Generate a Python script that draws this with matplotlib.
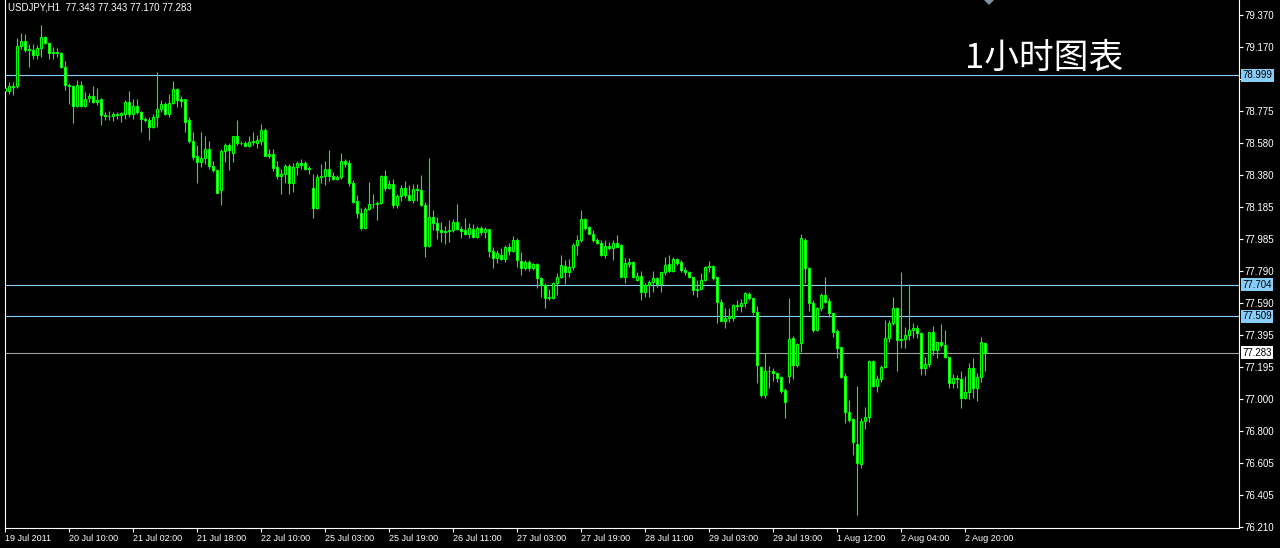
import numpy as np
import matplotlib
matplotlib.use('Agg')
import matplotlib.pyplot as plt
from matplotlib.patches import Polygon

# 1시간봉 OHLC
opens = [
    78.90, 78.90, 78.925, 78.93, 79.18, 79.21, 79.155, 79.155, 79.12, 79.165,
    79.235, 79.20, 79.133, 79.14, 79.135, 79.05, 78.94, 78.93, 78.81, 78.94,
    78.81, 78.855, 78.87, 78.83, 78.85, 78.75, 78.745, 78.745, 78.76, 78.755,
    78.76, 78.83, 78.76, 78.81, 78.77, 78.73, 78.72, 78.68, 78.74, 78.79,
    78.82, 78.76, 78.824, 78.91, 78.85, 78.85, 78.72, 78.59, 78.50, 78.46,
    78.49, 78.54, 78.44, 78.41, 78.29, 78.53, 78.57, 78.52, 78.62, 78.58,
    78.58, 78.56, 78.585, 78.58, 78.59, 78.66, 78.50, 78.51, 78.43, 78.378,
    78.39, 78.44, 78.33, 78.43, 78.454, 78.456, 78.42, 78.30, 78.18, 78.37,
    78.375, 78.418, 78.376, 78.36, 78.37, 78.468, 78.455, 78.33, 78.22, 78.15,
    78.057, 78.17, 78.20, 78.205, 78.21, 78.376, 78.30, 78.324, 78.197, 78.25,
    78.30, 78.26, 78.225, 78.293, 78.29, 78.197, 77.945, 78.125, 78.083, 78.042,
    78.03, 78.036, 78.04, 78.09, 78.05, 78.04, 78.015, 78.05, 78.00, 78.056,
    78.03, 78.05, 77.915, 77.867, 77.89, 77.865, 77.94, 77.91, 77.98, 77.85,
    77.81, 77.846, 77.81, 77.835, 77.743, 77.702, 77.62, 77.62, 77.712, 77.753,
    77.822, 77.78, 77.815, 77.95, 77.98, 78.11, 78.06, 78.02, 77.98, 77.96,
    77.887, 77.945, 77.93, 77.965, 77.949, 77.753, 77.83, 77.846, 77.733, 77.76,
    77.66, 77.70, 77.72, 77.743, 77.71, 77.78, 77.83, 77.79, 77.863, 77.846,
    77.795, 77.785, 77.753, 77.67, 77.68, 77.733, 77.815, 77.822, 77.753, 77.595,
    77.48, 77.50, 77.50, 77.578, 77.575, 77.593, 77.645, 77.62, 77.534, 77.198,
    77.023, 77.173, 77.17, 77.157, 77.136, 77.054, 77.14, 77.373, 77.208, 77.342,
    77.98, 77.805, 77.589, 77.424, 77.558, 77.64, 77.604, 77.527, 77.418, 77.317,
    77.14, 76.92, 76.875, 76.72, 76.60, 76.86, 76.889, 77.233, 77.08, 77.122,
    77.198, 77.373, 77.466, 77.558, 77.363, 77.37, 77.394, 77.424, 77.44, 77.404,
    77.192, 77.212, 77.41, 77.30, 77.348, 77.33, 77.26, 77.095, 77.126, 77.122,
    77.002, 77.04, 77.188, 77.068, 77.136, 77.343,
]
highs = [
    78.94, 78.954, 78.956, 79.226, 79.26, 79.25, 79.19, 79.19, 79.185, 79.31,
    79.24, 79.20, 79.17, 79.166, 79.139, 79.086, 78.95, 78.94, 78.97, 78.96,
    78.897, 78.89, 78.93, 78.92, 78.855, 78.77, 78.78, 78.77, 78.77, 78.77,
    78.845, 78.90, 78.85, 78.85, 78.78, 78.74, 78.74, 78.76, 79.016, 78.845,
    78.835, 78.88, 78.965, 78.92, 78.87, 78.85, 78.74, 78.65, 78.567, 78.65,
    78.62, 78.59, 78.47, 78.42, 78.54, 78.58, 78.58, 78.625, 78.72, 78.59,
    78.59, 78.62, 78.645, 78.63, 78.697, 78.67, 78.54, 78.54, 78.47, 78.42,
    78.45, 78.45, 78.454, 78.47, 78.48, 78.47, 78.44, 78.39, 78.39, 78.45,
    78.47, 78.536, 78.40, 78.38, 78.52, 78.48, 78.475, 78.35, 78.258, 78.176,
    78.186, 78.336, 78.265, 78.222, 78.382, 78.413, 78.35, 78.36, 78.263, 78.32,
    78.345, 78.32, 78.324, 78.324, 78.38, 78.213, 78.49, 78.166, 78.125, 78.09,
    78.07, 78.104, 78.11, 78.20, 78.07, 78.118, 78.083, 78.08, 78.07, 78.067,
    78.06, 78.05, 77.94, 77.918, 77.93, 77.95, 77.96, 78.007, 77.99, 77.908,
    77.856, 77.856, 77.84, 77.84, 77.753, 77.718, 77.68, 77.72, 77.774, 77.888,
    77.857, 77.862, 77.96, 78.01, 78.165, 78.114, 78.07, 78.04, 77.995, 77.98,
    77.98, 77.97, 77.98, 78.01, 77.953, 77.867, 77.87, 77.85, 77.78, 77.79,
    77.712, 77.733, 77.79, 77.753, 77.784, 77.877, 77.89, 77.877, 77.871, 77.856,
    77.815, 77.79, 77.753, 77.733, 77.774, 77.82, 77.85, 77.826, 77.753, 77.616,
    77.558, 77.56, 77.583, 77.61, 77.616, 77.66, 77.66, 77.624, 77.575, 77.204,
    77.28, 77.204, 77.188, 77.167, 77.142, 77.064, 77.624, 77.387, 77.342, 78.02,
    77.99, 77.816, 77.61, 77.568, 77.651, 77.754, 77.624, 77.53, 77.43, 77.32,
    77.157, 76.992, 76.88, 77.081, 76.883, 76.95, 77.24, 77.24, 77.146, 77.208,
    77.486, 77.486, 77.63, 77.568, 77.781, 77.445, 77.707, 77.466, 77.455, 77.414,
    77.26, 77.414, 77.451, 77.352, 77.46, 77.425, 77.26, 77.15, 77.146, 77.173,
    77.142, 77.22, 77.254, 77.157, 77.383, 77.343,
]
lows = [
    78.81, 78.882, 78.878, 78.92, 79.16, 79.14, 79.05, 79.10, 79.10, 79.11,
    79.19, 79.10, 79.10, 79.113, 79.04, 78.906, 78.82, 78.70, 78.80, 78.80,
    78.80, 78.835, 78.825, 78.815, 78.69, 78.72, 78.72, 78.715, 78.73, 78.71,
    78.73, 78.74, 78.73, 78.76, 78.65, 78.71, 78.60, 78.67, 78.676, 78.77,
    78.75, 78.74, 78.82, 78.80, 78.80, 78.65, 78.58, 78.475, 78.33, 78.43,
    78.45, 78.42, 78.40, 78.27, 78.196, 78.465, 78.41, 78.465, 78.57, 78.567,
    78.56, 78.555, 78.57, 78.55, 78.57, 78.50, 78.485, 78.405, 78.36, 78.265,
    78.33, 78.265, 78.28, 78.38, 78.42, 78.413, 78.39, 78.114, 78.17, 78.33,
    78.32, 78.345, 78.35, 78.35, 78.36, 78.43, 78.316, 78.207, 78.118, 78.042,
    78.046, 78.165, 78.176, 78.104, 78.20, 78.283, 78.296, 78.18, 78.18, 78.22,
    78.238, 78.22, 78.21, 78.22, 78.19, 77.877, 77.94, 78.042, 77.987, 77.97,
    77.956, 77.97, 78.03, 78.04, 77.99, 78.01, 77.995, 77.995, 77.99, 78.01,
    77.995, 77.877, 77.805, 77.836, 77.856, 77.846, 77.887, 77.904, 77.815, 77.764,
    77.795, 77.79, 77.795, 77.682, 77.63, 77.558, 77.61, 77.616, 77.64, 77.743,
    77.706, 77.753, 77.795, 77.887, 77.97, 78.04, 78.015, 77.97, 77.954, 77.883,
    77.867, 77.918, 77.857, 77.935, 77.75, 77.713, 77.815, 77.743, 77.727, 77.61,
    77.63, 77.63, 77.66, 77.692, 77.66, 77.764, 77.78, 77.78, 77.826, 77.784,
    77.764, 77.743, 77.64, 77.63, 77.676, 77.727, 77.784, 77.733, 77.465, 77.48,
    77.44, 77.475, 77.48, 77.548, 77.538, 77.568, 77.61, 77.517, 77.095, 77.013,
    77.002, 77.064, 77.11, 77.105, 77.033, 76.879, 77.095, 77.122, 77.194, 77.29,
    77.713, 77.542, 77.414, 77.418, 77.542, 77.589, 77.507, 77.383, 77.25, 77.13,
    76.848, 76.858, 76.652, 76.282, 76.57, 76.813, 76.858, 77.07, 77.044, 77.105,
    77.188, 77.353, 77.455, 77.171, 77.315, 77.315, 77.363, 77.373, 77.373, 77.147,
    77.147, 77.198, 77.27, 77.25, 77.32, 77.254, 77.064, 77.064, 77.064, 76.945,
    76.998, 76.998, 77.002, 76.986, 77.105, 77.17,
]
closes = [
    78.92, 78.93, 78.93, 79.18, 79.21, 79.155, 79.16, 79.12, 79.165, 79.235,
    79.20, 79.133, 79.14, 79.135, 79.05, 78.94, 78.93, 78.81, 78.94, 78.81,
    78.85, 78.87, 78.83, 78.845, 78.75, 78.745, 78.745, 78.76, 78.755, 78.765,
    78.83, 78.76, 78.81, 78.77, 78.73, 78.72, 78.68, 78.74, 78.79, 78.82,
    78.76, 78.824, 78.91, 78.845, 78.84, 78.71, 78.59, 78.495, 78.46, 78.49,
    78.54, 78.44, 78.41, 78.27, 78.53, 78.57, 78.535, 78.62, 78.58, 78.582,
    78.56, 78.585, 78.59, 78.60, 78.66, 78.50, 78.51, 78.427, 78.378, 78.39,
    78.44, 78.33, 78.43, 78.454, 78.446, 78.42, 78.425, 78.18, 78.37, 78.375,
    78.418, 78.376, 78.36, 78.37, 78.468, 78.45, 78.33, 78.217, 78.15, 78.057,
    78.17, 78.20, 78.205, 78.21, 78.376, 78.30, 78.324, 78.197, 78.25, 78.30,
    78.258, 78.225, 78.293, 78.29, 78.197, 77.945, 78.125, 78.083, 78.042, 78.03,
    78.036, 78.04, 78.09, 78.05, 78.036, 78.015, 78.052, 78.00, 78.056, 78.03,
    78.05, 77.915, 77.867, 77.898, 77.865, 77.94, 77.91, 77.98, 77.857, 77.81,
    77.846, 77.81, 77.83, 77.743, 77.702, 77.62, 77.63, 77.712, 77.753, 77.826,
    77.78, 77.815, 77.95, 77.98, 78.11, 78.056, 78.02, 77.98, 77.96, 77.887,
    77.945, 77.93, 77.965, 77.94, 77.753, 77.836, 77.846, 77.753, 77.76, 77.66,
    77.70, 77.72, 77.743, 77.71, 77.78, 77.826, 77.79, 77.863, 77.84, 77.795,
    77.785, 77.753, 77.67, 77.68, 77.733, 77.815, 77.822, 77.743, 77.595, 77.48,
    77.50, 77.51, 77.578, 77.575, 77.593, 77.651, 77.62, 77.534, 77.208, 77.023,
    77.173, 77.171, 77.16, 77.13, 77.05, 76.978, 77.37, 77.208, 77.338, 77.99,
    77.805, 77.589, 77.424, 77.558, 77.64, 77.60, 77.527, 77.414, 77.315, 77.136,
    76.92, 76.869, 76.731, 76.601, 76.862, 76.889, 77.233, 77.08, 77.122, 77.198,
    77.373, 77.466, 77.558, 77.363, 77.37, 77.394, 77.424, 77.44, 77.404, 77.192,
    77.212, 77.41, 77.30, 77.348, 77.33, 77.26, 77.095, 77.126, 77.12, 77.002,
    77.04, 77.188, 77.068, 77.136, 77.348, 77.283,
]

# x축 시간 라벨 (16봉 간격)
time_labels = ['19 Jul 2011', '20 Jul 10:00', '21 Jul 02:00', '21 Jul 18:00',
               '22 Jul 10:00', '25 Jul 03:00', '25 Jul 19:00', '26 Jul 11:00',
               '27 Jul 03:00', '27 Jul 19:00', '28 Jul 11:00', '29 Jul 03:00',
               '29 Jul 19:00', '1 Aug 12:00', '2 Aug 04:00', '2 Aug 20:00']
label_step = 16

# y축 가격 눈금 (78.975 는 78.999 박스에 가려짐)
price_ticks = [79.370, 79.170, 78.975, 78.775, 78.580, 78.380, 78.185, 77.985,
               77.790, 77.590, 77.395, 77.195, 77.000, 76.800, 76.605, 76.405,
               76.210]
hidden_tick = 78.975

# 수평선
level_lines = [78.999, 77.704, 77.509]
bid_price = 77.283

header = 'USDJPY,H1  77.343 77.343 77.170 77.283'
title = '1小时图表'

plt.rcParams['font.family'] = ['Liberation Sans', 'DejaVu Sans']

W, H = 1280, 548
fig = plt.figure(figsize=(W / 100, H / 100), dpi=100, facecolor='black')
ax = fig.add_axes([4.5 / W, (H - 527.5) / H, 1234 / W, 527.5 / H])
ax.set_facecolor('black')

o = np.array(opens)
h = np.array(highs)
l = np.array(lows)
c = np.array(closes)
x = np.arange(len(c))
up = c >= o

green = '#00ff00'
sky = '#87cefa'

# 수평선 (캔들 뒤)
for v in level_lines:
    ax.axhline(v, color=sky, linewidth=0.8, zorder=1)
ax.axhline(bid_price, color='#a0a0a0', linewidth=0.8, zorder=1)

# 캔들
ax.vlines(x, l, h, color=green, linewidth=0.8, zorder=2)
ax.bar(x, np.abs(c - o), bottom=np.minimum(o, c), width=0.5,
       color=np.where(up, 'black', 'white'), edgecolor=green,
       linewidth=0.8, zorder=3)

ax.set_xlim(-0.125, 308.4)
ax.set_ylim(76.21 - 0.8 / 161.9, 79.37 + 15 / 161.9)

# x축
ax.set_xticks(np.arange(len(time_labels)) * label_step)
ax.set_xticklabels(time_labels)
for lbl in ax.get_xticklabels():
    lbl.set_ha('left')
ax.tick_params(axis='x', colors='white', length=3, width=0.8, pad=2,
               labelsize=6.5)

# y축 (오른쪽)
ax.yaxis.tick_right()
ax.set_yticks(price_ticks)
ax.set_yticklabels(['' if v == hidden_tick else '%.3f' % v for v in price_ticks])
ax.tick_params(axis='y', colors='white', length=3, width=0.8, pad=1.5,
               labelsize=7)

for side in ['left', 'right', 'bottom']:
    ax.spines[side].set_color('white')
    ax.spines[side].set_linewidth(0.8)
ax.spines['top'].set_visible(False)

# 오른쪽 가격 박스
trans = ax.get_yaxis_transform()
for v in level_lines:
    ax.text(1.003, v, '%.3f' % v, transform=trans, va='center', ha='left',
            fontsize=7, color='black', clip_on=False, zorder=5,
            bbox=dict(boxstyle='square,pad=0.15', fc=sky, ec='none'))
ax.text(1.003, bid_price, '%.3f' % bid_price, transform=trans, va='center',
        ha='left', fontsize=7, color='black', clip_on=False, zorder=5,
        bbox=dict(boxstyle='square,pad=0.15', fc='white', ec='none'))

# 헤더, 제목
fig.text(8 / W, 1 - 7 / H, header, color='white', fontsize=7, va='center')
fig.text(965 / W, 1 - 58 / H, title, color='white', fontsize=25, va='center',
         family=['Noto Sans CJK SC', 'DejaVu Sans'])

# 차트 이동 표시 (회색 삼각형)
tri = Polygon([[984 / W, 1.0], [994 / W, 1.0], [989 / W, 1 - 5 / H]],
              closed=True, transform=fig.transFigure, facecolor='#8090a0',
              edgecolor='none')
fig.add_artist(tri)

fig.savefig('out.png', dpi=100, facecolor='black')
plt.close(fig)
